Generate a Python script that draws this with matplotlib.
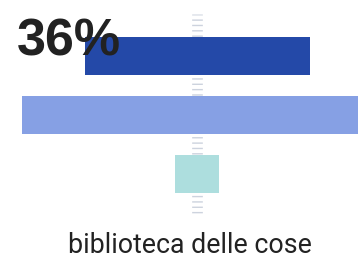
import matplotlib
matplotlib.use("Agg")
import matplotlib.pyplot as plt

categories = ["a", "b", "c"]
values = [36, 56, 7]
colors = ["#2449A8", "#86A0E4", "#ADDEDE"]
title = "biblioteca delle cose"
label = "36%"

plt.rcParams['lines.scale_dashes'] = False
W, H = 358, 257
fig = plt.figure(figsize=(W/100, H/100), dpi=100)
ax = fig.add_axes([0, 0, 1, 1])
ppu = 6.25
cx = 197
ax.set_xlim(-cx/ppu, (W-cx)/ppu)
step = 59
y0 = 56
ax.set_ylim((H-y0)/step, -y0/step)
ax.axis('off')

ypos = list(range(len(categories)))
# center dashed line
ax.plot([0, 0], [-0.71, 2.71], color="#CDD3DE", lw=7.7, linestyle=(0.3, (1.0, 2.85)),
        solid_capstyle='butt', dash_capstyle='butt', zorder=1)
ax.barh(ypos, values, left=[-v/2 for v in values], height=38/step, color=colors, zorder=2)

ax.text(-values[0]/2 - 68/ppu, -1/step, label, fontsize=37.5, fontweight='bold',
        family='Liberation Sans', color="#222222", va='baseline', ha='left', zorder=3)
fig.text(189.5/W, 3.7/H, title, fontsize=19.3, family='Roboto', color="#222222",
         ha='center', va='baseline')
fig.savefig("out.png", dpi=100)
